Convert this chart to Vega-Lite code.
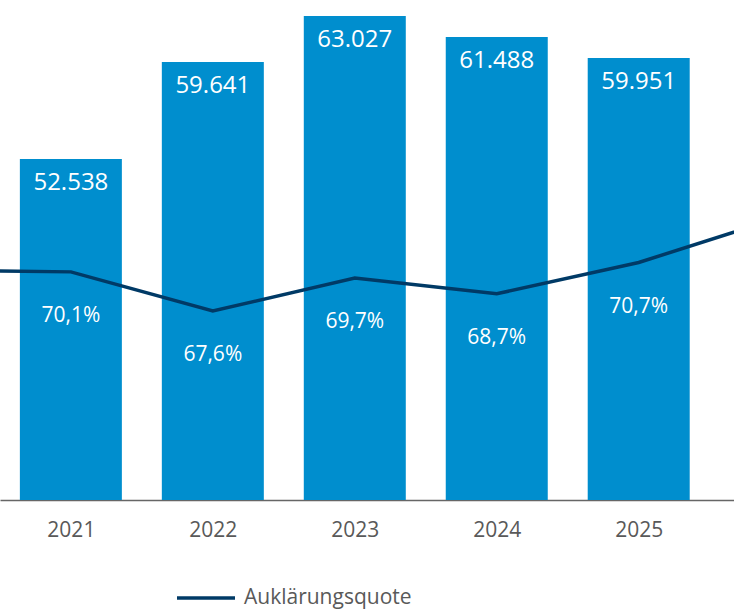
{
  "$schema": "https://vega.github.io/schema/vega-lite/v6.json",
  "width": 734,
  "height": 500,
  "autosize": {"type": "none"},
  "padding": {"left": 0, "top": 0, "right": 0, "bottom": 112},
  "background": "white",
  "config": {
    "view": {"stroke": null},
    "font": "Open Sans",
    "locale": {"number": {"decimal": ",", "thousands": ".", "grouping": [3], "currency": ["", " €"]}}
  },
  "datasets": {
    "faelle": [
      {"Jahr": 2021, "Faelle": 52538},
      {"Jahr": 2022, "Faelle": 59641},
      {"Jahr": 2023, "Faelle": 63027},
      {"Jahr": 2024, "Faelle": 61488},
      {"Jahr": 2025, "Faelle": 59951}
    ],
    "quote": [
      {"Jahr": 2020, "Quote": 0.702, "Reihe": "Auklärungsquote", "Sichtbar": false},
      {"Jahr": 2021, "Quote": 0.701, "Reihe": "Auklärungsquote", "Sichtbar": true},
      {"Jahr": 2022, "Quote": 0.676, "Reihe": "Auklärungsquote", "Sichtbar": true},
      {"Jahr": 2023, "Quote": 0.697, "Reihe": "Auklärungsquote", "Sichtbar": true},
      {"Jahr": 2024, "Quote": 0.687, "Reihe": "Auklärungsquote", "Sichtbar": true},
      {"Jahr": 2025, "Quote": 0.707, "Reihe": "Auklärungsquote", "Sichtbar": true},
      {"Jahr": 2026, "Quote": 0.736, "Reihe": "Auklärungsquote", "Sichtbar": false}
    ]
  },
  "encoding": {
    "x": {
      "field": "Jahr",
      "type": "quantitative",
      "scale": {"domain": [2020.536, 2025.636], "nice": false, "zero": false},
      "axis": {
        "values": [2021, 2022, 2023, 2024, 2025],
        "format": "d",
        "title": null,
        "grid": false,
        "ticks": false,
        "labelFontSize": 21,
        "labelColor": "#595959",
        "labelPadding": 19,
        "domainColor": "#666666",
        "domainWidth": 1.5,
        "labelFlush": false
      }
    }
  },
  "layer": [
    {
      "data": {"name": "faelle"},
      "mark": {"type": "bar", "width": 102, "color": "#008ECE", "clip": true},
      "encoding": {
        "y": {"field": "Faelle", "type": "quantitative", "scale": {"domain": [27500, 64200], "zero": false, "nice": false}, "axis": null}
      }
    },
    {
      "data": {"name": "faelle"},
      "mark": {"type": "text", "color": "white", "fontSize": 24, "baseline": "alphabetic", "dy": 31},
      "encoding": {
        "y": {"field": "Faelle", "type": "quantitative", "scale": {"domain": [27500, 64200], "zero": false, "nice": false}, "axis": null},
        "text": {"field": "Faelle", "type": "quantitative", "format": ",.0f"}
      }
    },
    {
      "data": {"name": "quote"},
      "mark": {"type": "line", "strokeWidth": 3.5, "clip": true},
      "encoding": {
        "y": {"field": "Quote", "type": "quantitative", "scale": {"domain": [0.555, 0.875], "zero": false, "nice": false}, "axis": null},
        "color": {
          "field": "Reihe",
          "type": "nominal",
          "scale": {"range": ["#003A66"]},
          "legend": {
            "title": null,
            "orient": "none",
            "legendX": 175,
            "legendY": 567,
            "symbolType": "stroke",
            "symbolSize": 3364,
            "symbolStrokeWidth": 3.5,
            "labelFontSize": 21,
            "labelColor": "#595959",
            "labelOffset": 7,
            "labelLimit": 400
          }
        }
      }
    },
    {
      "data": {"name": "quote"},
      "transform": [{"filter": "datum.Sichtbar"}],
      "mark": {"type": "text", "color": "white", "fontSize": 21, "baseline": "alphabetic", "dy": 50},
      "encoding": {
        "y": {"field": "Quote", "type": "quantitative", "scale": {"domain": [0.555, 0.875], "zero": false, "nice": false}, "axis": null},
        "text": {"field": "Quote", "type": "quantitative", "format": ".1%"}
      }
    }
  ],
  "resolve": {"scale": {"y": "independent"}}
}
